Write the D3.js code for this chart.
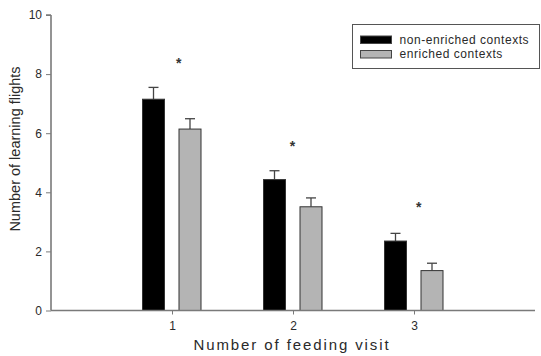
<!DOCTYPE html>
<html><head><meta charset="utf-8">
<script src="https://cdn.jsdelivr.net/npm/d3@7"></script>
<style>body{margin:0;background:#fff}svg{display:block;font-family:"Liberation Sans",Arial,sans-serif}</style>
</head><body>
<svg id="c" width="541" height="356"></svg>
<script>
const categories = [1, 2, 3];
const seriesNames = ["non-enriched contexts", "enriched contexts"];
const nonEnriched = [7.15, 4.43, 2.35];
const nonEnrichedErr = [0.40, 0.30, 0.26];
const enriched = [6.14, 3.51, 1.35];
const enrichedErr = [0.35, 0.30, 0.25];
const starCat = [1.055, 1.995, 3.04];
const starVal = [8.2, 5.4, 3.35];
const yTicks = [0, 2, 4, 6, 8, 10];
const colors = ["#000000", "#b4b4b4"];

const svg = d3.select("#c");
const x = d3.scaleLinear().domain([0, 4]).range([51, 535]);
const y = d3.scaleLinear().domain([0, 10]).range([310.5, 15]);
const axisColor = "#7a7a7a";
const textColor = "#2a2a2a";

const series = [
  {name: seriesNames[0], vals: nonEnriched, err: nonEnrichedErr, color: colors[0], off: -18.5},
  {name: seriesNames[1], vals: enriched, err: enrichedErr, color: colors[1], off: 18}
];
const bw = 22;

series.forEach(s => {
  const g = svg.append("g");
  categories.forEach((c, i) => {
    const cx = x(c) + s.off;
    g.append("line").attr("x1", cx).attr("x2", cx)
      .attr("y1", y(s.vals[i])).attr("y2", y(s.vals[i] + s.err[i]))
      .attr("stroke", "#444").attr("stroke-width", 1.3);
    g.append("line").attr("x1", cx - 5).attr("x2", cx + 5)
      .attr("y1", y(s.vals[i] + s.err[i])).attr("y2", y(s.vals[i] + s.err[i]))
      .attr("stroke", "#444").attr("stroke-width", 1.3);
    g.append("rect").attr("x", cx - bw / 2).attr("width", bw)
      .attr("y", y(s.vals[i])).attr("height", y(0) - y(s.vals[i]))
      .attr("fill", s.color).attr("stroke", "#333").attr("stroke-width", 1);
  });
});

categories.forEach((c, i) => {
  svg.append("text").attr("x", x(starCat[i])).attr("y", y(starVal[i]))
    .attr("text-anchor", "middle").attr("font-size", 14).attr("font-weight", "bold").attr("fill", "#333")
    .text("*");
});

const ya = svg.append("g").attr("transform", "translate(51,0)")
  .call(d3.axisLeft(y).tickValues(yTicks).tickSize(5).tickPadding(4).tickFormat(d3.format("d")));
ya.select(".domain").attr("stroke", axisColor).attr("stroke-width", 1.6).attr("d", `M0,${y(10)}H-5M0,${y(10)}V${y(0)}`);
ya.selectAll(".tick line").attr("stroke", axisColor);
ya.selectAll("text").attr("font-size", 12).attr("fill", textColor).attr("font-family", "Liberation Sans, Arial, sans-serif");

const xa = svg.append("g").attr("transform", `translate(0,${y(0)})`)
  .call(d3.axisBottom(x).tickValues(categories).tickSize(4).tickPadding(7).tickFormat(d3.format("d")));
xa.select(".domain").attr("stroke", axisColor).attr("stroke-width", 1.6).attr("d", `M${x(0)},0H${x(4)}`);
xa.selectAll(".tick line").attr("stroke", axisColor);
xa.selectAll("text").attr("font-size", 12).attr("fill", textColor).attr("font-family", "Liberation Sans, Arial, sans-serif");

svg.append("text").attr("x", 292).attr("y", 350).attr("text-anchor", "middle")
  .attr("font-size", 15).attr("letter-spacing", 1.9).attr("fill", textColor)
  .text("Number of feeding visit");
svg.append("text").attr("transform", "translate(20,149) rotate(-90)").attr("text-anchor", "middle")
  .attr("font-size", 14.5).attr("fill", textColor)
  .text("Number of learning flights");

const lg = svg.append("g");
lg.append("rect").attr("x", 352.5).attr("y", 24.5).attr("width", 187).attr("height", 44)
  .attr("fill", "#fff").attr("stroke", "#555").attr("stroke-width", 1);
series.forEach((s, i) => {
  lg.append("rect").attr("x", 360.5).attr("y", 36 + i * 14.5).attr("width", 31).attr("height", 7.5)
    .attr("fill", s.color).attr("stroke", "#444").attr("stroke-width", 1);
  lg.append("text").attr("x", 399.5).attr("y", 43.5 + i * 14.5)
    .attr("font-size", 12).attr("letter-spacing", 0.55).attr("fill", textColor)
    .text(s.name);
});
</script>
</body></html>
